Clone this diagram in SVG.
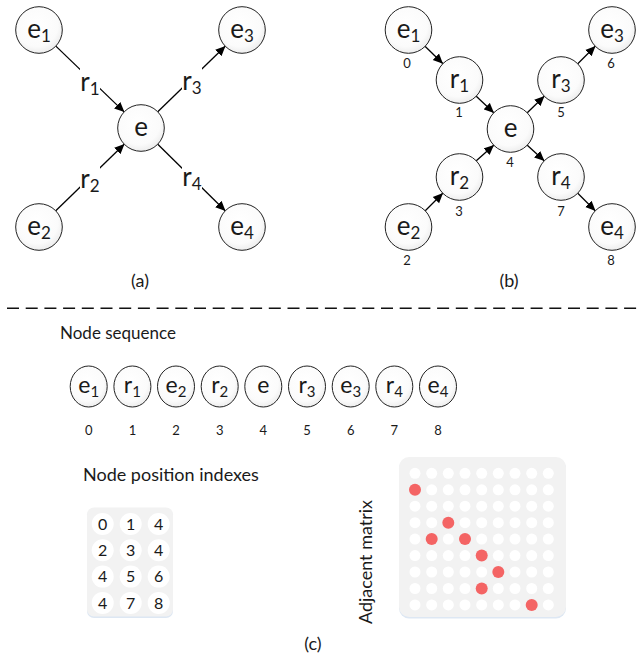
<svg xmlns="http://www.w3.org/2000/svg" width="644" height="658" viewBox="0 0 644 658">
<defs>
<radialGradient id="g" cx="0.45" cy="0.4" r="0.65">
<stop offset="0" stop-color="#ffffff"/>
<stop offset="0.7" stop-color="#fbfbfb"/>
<stop offset="1" stop-color="#e9e9e9"/>
</radialGradient>
<marker id="ah" viewBox="0 0 10 10" refX="10" refY="5" markerWidth="10" markerHeight="10" markerUnits="userSpaceOnUse" orient="auto">
<path d="M0,0.5 L10,5 L0,9.5 Z" fill="#000"/>
</marker>
</defs>
<style>
.n{fill:url(#g);stroke:#222;stroke-width:1}
.t{font-family:Lato,"Open Sans",sans-serif;fill:#1a1a1a;text-anchor:middle}
.big{font-size:26px}
.seq{font-size:23px}
.idx{font-size:13px}
.lab{font-size:17px}
.cap{font-size:18px}
.e{stroke:#000;stroke-width:1.3;fill:none;marker-end:url(#ah)}
.w{fill:#fff}
.dot{fill:#fff}
.red{fill:#f46464}
</style>

<!-- Panel (a) -->
<g id="a-connectors">
<line class="e" x1="55.6" y1="45.9" x2="124.4" y2="112.1"/>
<line class="e" x1="55.5" y1="211" x2="124.5" y2="144"/>
<line class="e" x1="157.5" y1="112" x2="225.5" y2="46"/>
<line class="e" x1="157.5" y1="144" x2="225.5" y2="211"/>
<rect class="w" x="80" y="66" width="20" height="32"/>
<rect class="w" x="80" y="163" width="20" height="32"/>
<rect class="w" x="182" y="66" width="20" height="32"/>
<rect class="w" x="182" y="162" width="20" height="32"/>
<text class="t big" x="90" y="91">r<tspan font-size="17" dy="4">1</tspan></text>
<text class="t big" x="90" y="188">r<tspan font-size="17" dy="4">2</tspan></text>
<text class="t big" x="192" y="90">r<tspan font-size="17" dy="4">3</tspan></text>
<text class="t big" x="192" y="186">r<tspan font-size="17" dy="4">4</tspan></text>
</g>
<g id="a-e1"><circle class="n" cx="39" cy="30" r="23.3"/><text class="t big" x="39" y="38">e<tspan font-size="17" dy="4">1</tspan></text></g>
<g id="a-e2"><circle class="n" cx="39" cy="227" r="23.3"/><text class="t big" x="39" y="235">e<tspan font-size="17" dy="4">2</tspan></text></g>
<g id="a-e3"><circle class="n" cx="242" cy="30" r="23.3"/><text class="t big" x="242" y="38">e<tspan font-size="17" dy="4">3</tspan></text></g>
<g id="a-e4"><circle class="n" cx="242" cy="227" r="23.3"/><text class="t big" x="242" y="235">e<tspan font-size="17" dy="4">4</tspan></text></g>
<g id="a-e"><circle class="n" cx="141" cy="128" r="23.3"/><text class="t big" x="141" y="136">e</text></g>
<text class="t cap" x="140" y="287">(a)</text>

<!-- Panel (b) -->
<g id="b-connectors">
<line class="e" x1="425" y1="46.2" x2="443" y2="63.8"/>
<line class="e" x1="476" y1="96" x2="494" y2="113"/>
<line class="e" x1="425" y1="211" x2="443" y2="193"/>
<line class="e" x1="476" y1="161" x2="494" y2="145"/>
<line class="e" x1="527" y1="113" x2="544.5" y2="96"/>
<line class="e" x1="577.5" y1="64" x2="595.5" y2="46"/>
<line class="e" x1="527" y1="145" x2="544.5" y2="161"/>
<line class="e" x1="577.5" y1="193" x2="595.5" y2="211"/>
</g>
<g id="b-e1"><circle class="n" cx="408.5" cy="30" r="23.3"/><text class="t big" x="408.5" y="38">e<tspan font-size="17" dy="4">1</tspan></text><text class="t idx" x="407" y="68">0</text></g>
<g id="b-r1"><circle class="n" cx="459.5" cy="80" r="23.3"/><text class="t big" x="459.5" y="88">r<tspan font-size="17" dy="4">1</tspan></text><text class="t idx" x="459" y="117">1</text></g>
<g id="b-e2"><circle class="n" cx="408.5" cy="227" r="23.3"/><text class="t big" x="408.5" y="235">e<tspan font-size="17" dy="4">2</tspan></text><text class="t idx" x="407" y="265">2</text></g>
<g id="b-r2"><circle class="n" cx="459.5" cy="177" r="23.3"/><text class="t big" x="459.5" y="185">r<tspan font-size="17" dy="4">2</tspan></text><text class="t idx" x="459" y="216">3</text></g>
<g id="b-e"><circle class="n" cx="510.5" cy="129" r="23.3"/><text class="t big" x="510.5" y="137">e</text><text class="t idx" x="510" y="167">4</text></g>
<g id="b-r3"><circle class="n" cx="561" cy="80" r="23.3"/><text class="t big" x="561" y="88">r<tspan font-size="17" dy="4">3</tspan></text><text class="t idx" x="561" y="117">5</text></g>
<g id="b-e3"><circle class="n" cx="612" cy="30" r="23.3"/><text class="t big" x="612" y="38">e<tspan font-size="17" dy="4">3</tspan></text><text class="t idx" x="611" y="68">6</text></g>
<g id="b-r4"><circle class="n" cx="561" cy="177" r="23.3"/><text class="t big" x="561" y="185">r<tspan font-size="17" dy="4">4</tspan></text><text class="t idx" x="561" y="216">7</text></g>
<g id="b-e4"><circle class="n" cx="612" cy="227" r="23.3"/><text class="t big" x="612" y="235">e<tspan font-size="17" dy="4">4</tspan></text><text class="t idx" x="611" y="265">8</text></g>
<text class="t cap" x="509" y="287">(b)</text>

<!-- divider -->
<line x1="7" y1="308.3" x2="640" y2="308.3" stroke="#111" stroke-width="1.6" stroke-dasharray="12 6.7"/>

<!-- Panel (c) -->
<text class="t lab" x="60" y="339" style="text-anchor:start">Node sequence</text>
<g id="s0"><ellipse class="n" cx="88.7" cy="386.5" rx="18.5" ry="20.5"/><text class="t seq" x="88.7" y="393">e<tspan font-size="15" dy="4">1</tspan></text><text class="t idx" x="88.7" y="435">0</text></g>
<g id="s1"><ellipse class="n" cx="132.4" cy="386.5" rx="18.5" ry="20.5"/><text class="t seq" x="132.4" y="393">r<tspan font-size="15" dy="4">1</tspan></text><text class="t idx" x="132.4" y="435">1</text></g>
<g id="s2"><ellipse class="n" cx="176" cy="386.5" rx="18.5" ry="20.5"/><text class="t seq" x="176" y="393">e<tspan font-size="15" dy="4">2</tspan></text><text class="t idx" x="176" y="435">2</text></g>
<g id="s3"><ellipse class="n" cx="219.7" cy="386.5" rx="18.5" ry="20.5"/><text class="t seq" x="219.7" y="393">r<tspan font-size="15" dy="4">2</tspan></text><text class="t idx" x="219.7" y="435">3</text></g>
<g id="s4"><ellipse class="n" cx="263.3" cy="386.5" rx="18.5" ry="20.5"/><text class="t seq" x="263.3" y="393">e</text><text class="t idx" x="263.3" y="435">4</text></g>
<g id="s5"><ellipse class="n" cx="307" cy="386.5" rx="18.5" ry="20.5"/><text class="t seq" x="307" y="393">r<tspan font-size="15" dy="4">3</tspan></text><text class="t idx" x="307" y="435">5</text></g>
<g id="s6"><ellipse class="n" cx="350.7" cy="386.5" rx="18.5" ry="20.5"/><text class="t seq" x="350.7" y="393">e<tspan font-size="15" dy="4">3</tspan></text><text class="t idx" x="350.7" y="435">6</text></g>
<g id="s7"><ellipse class="n" cx="394.3" cy="386.5" rx="18.5" ry="20.5"/><text class="t seq" x="394.3" y="393">r<tspan font-size="15" dy="4">4</tspan></text><text class="t idx" x="394.3" y="435">7</text></g>
<g id="s8"><ellipse class="n" cx="438" cy="386.5" rx="18.5" ry="20.5"/><text class="t seq" x="438" y="393">e<tspan font-size="15" dy="4">4</tspan></text><text class="t idx" x="438" y="435">8</text></g>

<text class="t" x="83" y="481" style="text-anchor:start;font-size:18px">Node position indexes</text>
<g id="pos-grid">
<rect x="87" y="509" width="86" height="109" rx="7" fill="#dde7f3"/>
<rect x="87" y="507.5" width="86" height="109" rx="7" fill="#f2f2f2"/>
<g class="dot">
<circle cx="102.7" cy="524" r="11"/><circle cx="130.7" cy="524" r="11"/><circle cx="158.7" cy="524" r="11"/>
<circle cx="102.7" cy="550.3" r="11"/><circle cx="130.7" cy="550.3" r="11"/><circle cx="158.7" cy="550.3" r="11"/>
<circle cx="102.7" cy="576.6" r="11"/><circle cx="130.7" cy="576.6" r="11"/><circle cx="158.7" cy="576.6" r="11"/>
<circle cx="102.7" cy="602.9" r="11"/><circle cx="130.7" cy="602.9" r="11"/><circle cx="158.7" cy="602.9" r="11"/>
</g>
<g class="t" style="font-size:16px">
<text x="102.7" y="529.8">0</text><text x="130.7" y="529.8">1</text><text x="158.7" y="529.8">4</text>
<text x="102.7" y="556.1">2</text><text x="130.7" y="556.1">3</text><text x="158.7" y="556.1">4</text>
<text x="102.7" y="582.4">4</text><text x="130.7" y="582.4">5</text><text x="158.7" y="582.4">6</text>
<text x="102.7" y="608.7">4</text><text x="130.7" y="608.7">7</text><text x="158.7" y="608.7">8</text>
</g>
</g>

<text class="t" transform="translate(372,562) rotate(-90)" style="font-size:18px">Adjacent matrix</text>
<g id="adj-matrix">
<rect x="399" y="458.5" width="167" height="160" rx="10" fill="#dde7f3"/>
<rect x="399" y="457" width="167" height="160" rx="10" fill="#f2f2f2"/>
<g class="dot">
<circle cx="415" cy="473.3" r="5.5"/><circle cx="431.7" cy="473.3" r="5.5"/><circle cx="448.3" cy="473.3" r="5.5"/><circle cx="465" cy="473.3" r="5.5"/><circle cx="481.7" cy="473.3" r="5.5"/><circle cx="498.3" cy="473.3" r="5.5"/><circle cx="515" cy="473.3" r="5.5"/><circle cx="531.7" cy="473.3" r="5.5"/><circle cx="548.3" cy="473.3" r="5.5"/>
<circle cx="431.7" cy="489.8" r="5.5"/><circle cx="448.3" cy="489.8" r="5.5"/><circle cx="465" cy="489.8" r="5.5"/><circle cx="481.7" cy="489.8" r="5.5"/><circle cx="498.3" cy="489.8" r="5.5"/><circle cx="515" cy="489.8" r="5.5"/><circle cx="531.7" cy="489.8" r="5.5"/><circle cx="548.3" cy="489.8" r="5.5"/>
<circle cx="415" cy="506.2" r="5.5"/><circle cx="431.7" cy="506.2" r="5.5"/><circle cx="448.3" cy="506.2" r="5.5"/><circle cx="465" cy="506.2" r="5.5"/><circle cx="481.7" cy="506.2" r="5.5"/><circle cx="498.3" cy="506.2" r="5.5"/><circle cx="515" cy="506.2" r="5.5"/><circle cx="531.7" cy="506.2" r="5.5"/><circle cx="548.3" cy="506.2" r="5.5"/>
<circle cx="415" cy="522.7" r="5.5"/><circle cx="431.7" cy="522.7" r="5.5"/><circle cx="465" cy="522.7" r="5.5"/><circle cx="481.7" cy="522.7" r="5.5"/><circle cx="498.3" cy="522.7" r="5.5"/><circle cx="515" cy="522.7" r="5.5"/><circle cx="531.7" cy="522.7" r="5.5"/><circle cx="548.3" cy="522.7" r="5.5"/>
<circle cx="415" cy="539.1" r="5.5"/><circle cx="448.3" cy="539.1" r="5.5"/><circle cx="481.7" cy="539.1" r="5.5"/><circle cx="498.3" cy="539.1" r="5.5"/><circle cx="515" cy="539.1" r="5.5"/><circle cx="531.7" cy="539.1" r="5.5"/><circle cx="548.3" cy="539.1" r="5.5"/>
<circle cx="415" cy="555.6" r="5.5"/><circle cx="431.7" cy="555.6" r="5.5"/><circle cx="448.3" cy="555.6" r="5.5"/><circle cx="465" cy="555.6" r="5.5"/><circle cx="498.3" cy="555.6" r="5.5"/><circle cx="515" cy="555.6" r="5.5"/><circle cx="531.7" cy="555.6" r="5.5"/><circle cx="548.3" cy="555.6" r="5.5"/>
<circle cx="415" cy="572" r="5.5"/><circle cx="431.7" cy="572" r="5.5"/><circle cx="448.3" cy="572" r="5.5"/><circle cx="465" cy="572" r="5.5"/><circle cx="481.7" cy="572" r="5.5"/><circle cx="515" cy="572" r="5.5"/><circle cx="531.7" cy="572" r="5.5"/><circle cx="548.3" cy="572" r="5.5"/>
<circle cx="415" cy="588.5" r="5.5"/><circle cx="431.7" cy="588.5" r="5.5"/><circle cx="448.3" cy="588.5" r="5.5"/><circle cx="465" cy="588.5" r="5.5"/><circle cx="498.3" cy="588.5" r="5.5"/><circle cx="515" cy="588.5" r="5.5"/><circle cx="531.7" cy="588.5" r="5.5"/><circle cx="548.3" cy="588.5" r="5.5"/>
<circle cx="415" cy="604.9" r="5.5"/><circle cx="431.7" cy="604.9" r="5.5"/><circle cx="448.3" cy="604.9" r="5.5"/><circle cx="465" cy="604.9" r="5.5"/><circle cx="481.7" cy="604.9" r="5.5"/><circle cx="498.3" cy="604.9" r="5.5"/><circle cx="515" cy="604.9" r="5.5"/><circle cx="548.3" cy="604.9" r="5.5"/>
</g>
<g class="red">
<circle cx="415" cy="489.8" r="6"/>
<circle cx="448.3" cy="522.7" r="6"/>
<circle cx="431.7" cy="539.1" r="6"/><circle cx="465" cy="539.1" r="6"/>
<circle cx="481.7" cy="555.6" r="6"/>
<circle cx="498.3" cy="572" r="6"/>
<circle cx="481.7" cy="588.5" r="6"/>
<circle cx="531.7" cy="604.9" r="6"/>
</g>
</g>
<text class="t cap" x="313" y="650">(c)</text>
</svg>
